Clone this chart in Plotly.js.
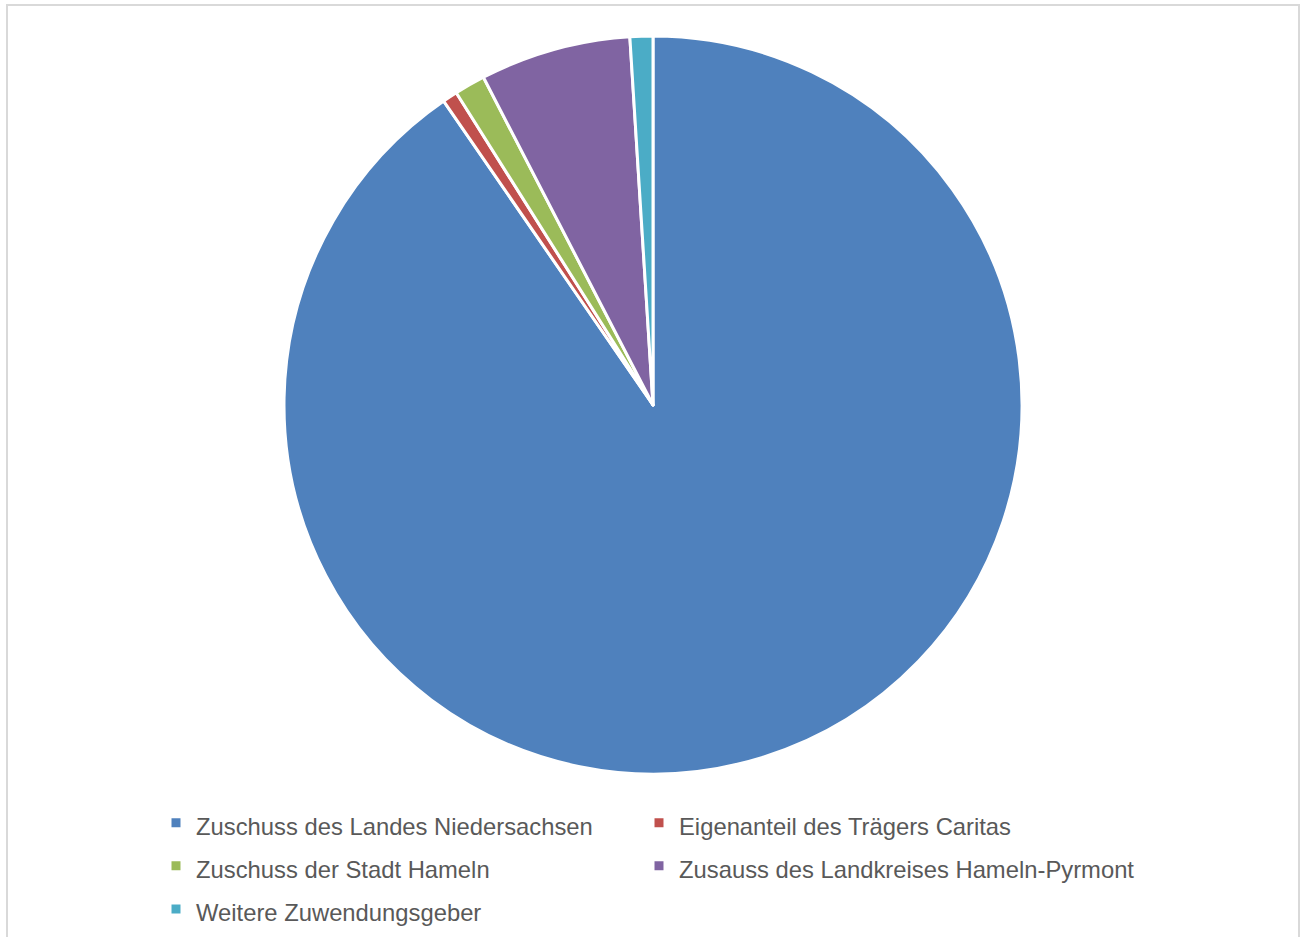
<!DOCTYPE html>
<html>
<head>
<meta charset="utf-8">
<script src="https://cdn.plot.ly/plotly-3.0.1.min.js"></script>
<style>html,body{margin:0;padding:0;background:#fff;}#chart{width:1307px;height:937px;}</style>
</head>
<body>
<div id="chart"></div>
<script>
const labels = [
  "Zuschuss des Landes Niedersachsen",
  "Eigenanteil des Trägers Caritas",
  "Zuschuss der Stadt Hameln",
  "Zusauss des Landkreises Hameln-Pyrmont",
  "Weitere Zuwendungsgeber"
];
const values = [90.4, 0.65, 1.35, 6.6, 1.0];
const colors = ["#4F81BD", "#C0504D", "#9BBB59", "#8064A2", "#4BACC6"];

const W = 1307, H = 937;
const cx = 653, cy = 405, r = 369;

// legend text drawn at 23.8px; the legend's own (larger) font size only sets row spacing
const legendText = labels.map(l => '<span style="font-size:23.8px">' + l + '</span>');

const data = [{
  type: "pie",
  labels: legendText,
  values: values,
  sort: false,
  direction: "clockwise",
  rotation: 0,
  textinfo: "none",
  hoverinfo: "label+percent",
  marker: { colors: colors, line: { color: "#ffffff", width: 3 } },
  domain: {
    x: [(cx - r) / W, (cx + r) / W],
    y: [1 - (cy + r) / H, 1 - (cy - r) / H]
  }
}];

const layout = {
  width: W, height: H,
  margin: { l: 0, r: 0, t: 0, b: 0, autoexpand: false },
  paper_bgcolor: "#ffffff",
  showlegend: true,
  legend: {
    orientation: "h",
    x: 156 / W, xanchor: "left",
    y: 1 - 795 / H, yanchor: "top",
    entrywidth: 438, entrywidthmode: "pixels",
    valign: "bottom",
    font: { family: "Liberation Sans, Arial, sans-serif", size: 30.8, color: "#595959" },
    bgcolor: "rgba(0,0,0,0)",
    // invisible spacer title: only widens the legend box so the second column is not clipped
    title: {
      text: "M".repeat(1200),
      side: "top",
      font: { size: 1, color: "rgba(0,0,0,0)" }
    }
  },
  shapes: [{
    type: "rect", xref: "paper", yref: "paper",
    x0: 7 / W, x1: 1299 / W, y0: -0.05, y1: 1 - 5 / H,
    line: { color: "#d9d9d9", width: 2 }, fillcolor: "rgba(0,0,0,0)", layer: "below"
  }]
};

Plotly.newPlot("chart", data, layout, { displayModeBar: false, staticPlot: true });
</script>
</body>
</html>
